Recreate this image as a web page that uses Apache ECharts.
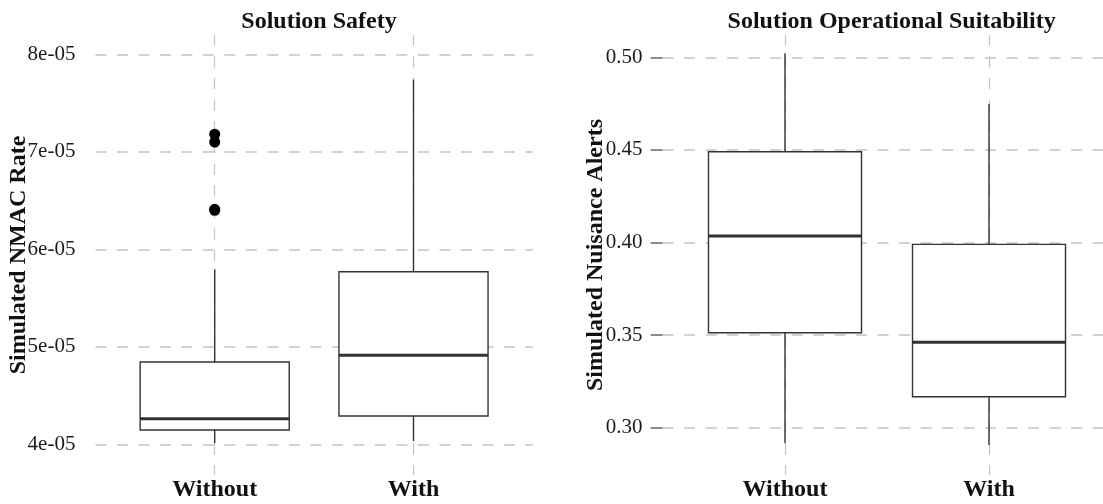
<!DOCTYPE html>
<html>
<head>
<meta charset="utf-8">
<script src="https://cdn.jsdelivr.net/npm/echarts@6/dist/echarts.min.js"></script>
<style>
html,body{margin:0;padding:0;background:#fff;}
#chart{width:1103px;height:504px;}
</style>
</head>
<body>
<div id="chart"></div>
<script>
// ---- data ----
const categories = ['Without', 'With'];
// [lower whisker, Q1, median, Q3, upper whisker]
const safetyBoxes = [
  [4.01e-5, 4.147e-5, 4.263e-5, 4.844e-5, 5.795e-5],
  [4.034e-5, 4.29e-5, 4.913e-5, 5.77e-5, 7.74e-5]
];
const safetyOutlierCats = ['Without', 'Without', 'Without', 'Without'];
const safetyOutlierVals = [7.18e-5, 7.10e-5, 6.41e-5, 6.40e-5];
const suitBoxes = [
  [0.2916, 0.3513, 0.4035, 0.449, 0.5022],
  [0.2907, 0.3167, 0.3461, 0.399, 0.4748]
];
const safetyTickValues = [4e-5, 5e-5, 6e-5, 7e-5, 8e-5];
const safetyTickLabels = ['4e-05', '5e-05', '6e-05', '7e-05', '8e-05'];
const suitTickValues = [0.30, 0.35, 0.40, 0.45, 0.50];
const suitTickLabels = ['0.30', '0.35', '0.40', '0.45', '0.50'];
const titles = ['Solution Safety', 'Solution Operational Suitability'];
const yNames = ['Simulated NMAC Rate', 'Simulated Nuisance Alerts'];

// ---- styling ----
const SERIF = "'Liberation Serif', 'DejaVu Serif', serif";
const GRID_COLOR = '#c4c4c4';
const BOX_COLOR = '#333333';
const safetyRange = [3.685e-5, 8.198e-5];
const suitRange = [0.27446, 0.51204];

function labelFor(values, labels) {
  return function (v) {
    let best = -1, bd = Infinity;
    values.forEach((t, i) => { const d = Math.abs(t - v); if (d < bd) { bd = d; best = i; } });
    const tol = Math.abs(values[1] - values[0]) * 0.01;
    return bd < tol ? labels[best] : '';
  };
}

function renderBox(params, api) {
  const x = api.value(0);
  const lo = api.coord([x, api.value(1)]);
  const q1 = api.coord([x, api.value(2)]);
  const med = api.coord([x, api.value(3)]);
  const q3 = api.coord([x, api.value(4)]);
  const hi = api.coord([x, api.value(5)]);
  const step = Math.abs(api.coord([1, api.value(3)])[0] - api.coord([0, api.value(3)])[0]);
  const hw = step * 0.375;
  const st = { stroke: BOX_COLOR, lineWidth: 1.4, fill: null };
  return {
    type: 'group',
    children: [
      { type: 'line', shape: { x1: hi[0], y1: hi[1], x2: q3[0], y2: q3[1] }, style: st },
      { type: 'line', shape: { x1: q1[0], y1: q1[1], x2: lo[0], y2: lo[1] }, style: st },
      { type: 'rect', shape: { x: q3[0] - hw, y: q3[1], width: 2 * hw, height: q1[1] - q3[1] },
        style: { fill: '#ffffff', stroke: BOX_COLOR, lineWidth: 1.4 } },
      { type: 'line', shape: { x1: med[0] - hw, y1: med[1], x2: med[0] + hw, y2: med[1] },
        style: { stroke: BOX_COLOR, lineWidth: 3 } }
    ]
  };
}

const panels = [
  { gridA: { left: 95.4, width: 437.4 }, gridC: { left: 214.7, width: 198.8 }, range: safetyRange,
    boxes: safetyBoxes, ticks: safetyTickValues, labels: safetyTickLabels, nameGap: 65, tick: false, titleX: 314 },
  { gridA: { left: 662.6, width: 448.8 }, gridC: { left: 785, width: 204 }, range: suitRange,
    boxes: suitBoxes, ticks: suitTickValues, labels: suitTickLabels, nameGap: 55, tick: true, titleX: 886.6 }
];

const option = {
  animation: false,
  backgroundColor: '#ffffff',
  title: [], grid: [], xAxis: [], yAxis: [], series: []
};

panels.forEach((p, i) => {
  const gA = i * 2, gC = i * 2 + 1;
  option.title.push({
    text: titles[i], left: p.titleX, top: 5, textAlign: 'center',
    textStyle: { fontFamily: SERIF, fontWeight: 'bold', fontSize: 24, color: '#111' }
  });
  option.grid.push({ left: p.gridA.left, width: p.gridA.width, top: 35, bottom: 29, containLabel: false });
  option.grid.push({ left: p.gridC.left, width: p.gridC.width, top: 35, bottom: 29, containLabel: false });
  // background grid: horizontal lines + y labels
  option.xAxis.push({ type: 'category', gridIndex: gA, data: categories, show: false });
  option.yAxis.push({
    type: 'value', gridIndex: gA, min: p.range[0], max: p.range[1],
    name: yNames[i], nameLocation: 'middle', nameGap: p.nameGap, nameRotate: 90, nameMoveOverlap: false,
    nameTextStyle: { fontFamily: SERIF, fontWeight: 'bold', fontSize: 24, color: '#111' },
    axisLine: { show: false },
    axisTick: { show: p.tick, length: 12, lineStyle: { color: '#666', width: 1.5 }, customValues: p.ticks },
    axisLabel: { margin: 20, fontFamily: SERIF, fontSize: 21, color: '#1a1a1a',
      customValues: p.ticks, formatter: labelFor(p.ticks, p.labels) },
    splitLine: { show: true,
      lineStyle: { color: GRID_COLOR, width: 1.5, type: [11, 10.5] } }
  });
  // box grid: vertical lines + x labels + boxes
  option.xAxis.push({
    type: 'category', gridIndex: gC, data: categories, boundaryGap: false,
    axisLine: { show: false }, axisTick: { show: false },
    axisLabel: { margin: 3, fontFamily: SERIF, fontWeight: 'bold', fontSize: 24, color: '#111', interval: 0 },
    splitLine: { show: true, interval: 0, lineStyle: { color: GRID_COLOR, width: 1.2, type: [11, 10.5] } }
  });
  option.yAxis.push({ type: 'value', gridIndex: gC, min: p.range[0], max: p.range[1], show: false,
    splitLine: { show: false } });
  option.series.push({
    type: 'custom', xAxisIndex: gC, yAxisIndex: gC, renderItem: renderBox,
    encode: { x: 0, y: [1, 2, 3, 4, 5] },
    data: p.boxes.map((b, k) => [categories[k]].concat(b)),
    z: 5
  });
});

option.series.push({
  type: 'scatter', xAxisIndex: 1, yAxisIndex: 1, symbol: 'circle', symbolSize: 11,
  itemStyle: { color: '#000', opacity: 1 },
  data: safetyOutlierVals.map((v, k) => [safetyOutlierCats[k], v]),
  z: 6
});

const chart = echarts.init(document.getElementById('chart'), null, { renderer: 'canvas' });
chart.setOption(option);
</script>
</body>
</html>
